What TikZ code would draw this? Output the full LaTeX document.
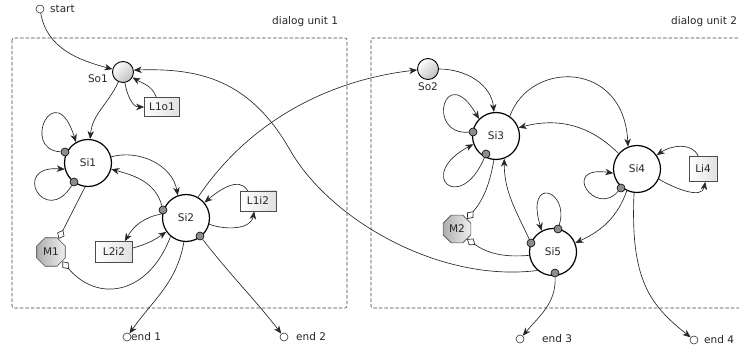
\documentclass[tikz,border=0pt]{standalone}
\usepackage{fontspec}
\setmainfont{DejaVu Sans}
\usetikzlibrary{arrows.meta,shapes.geometric}
\begin{document}
\begin{tikzpicture}[x=1pt,y=1pt,
  font=\fontsize{10.5}{12}\selectfont,
  every node/.style={text=black!85},
  conn/.style={draw=black!85, line width=0.65pt, -{Stealth[length=8pt,width=6.5pt,inset=2.5pt]}},
  mconn/.style={draw=black!85, line width=0.65pt, -{Diamond[open,length=10pt,width=8pt,fill=white]}},
  state/.style={circle, draw=black, line width=1.2pt, fill=white, minimum size=47pt, inner sep=0pt},
  source/.style={circle, draw=black, line width=0.9pt, minimum size=21pt, inner sep=0pt,
    top color=white, bottom color=black!25, shading angle=45},
  port/.style={circle, draw=black, line width=0.6pt, fill=black!45, minimum size=8pt, inner sep=0pt},
  lbox/.style={rectangle, draw=black!70, line width=0.7pt, left color=white, right color=black!12,
    minimum width=35pt, minimum height=20pt, inner sep=1pt},
  mnode/.style={regular polygon, regular polygon sides=8, draw=black!70, line width=0.7pt,
    left color=black!32, right color=black!6, minimum size=31pt, inner sep=0pt},
  term/.style={circle, draw=black!80, line width=0.6pt, fill=white, minimum size=8pt, inner sep=0pt},
  txt/.style={inner sep=0pt},
  unit/.style={draw=black!75, line width=0.6pt, dash pattern=on 3.5pt off 2pt, rounded corners=2pt}
]
\useasboundingbox (0,0) rectangle (739,-347);

% dialog unit frames
\draw[unit] (12,-38) rectangle (347,-308);
\draw[unit] (371,-38) rectangle (760,-308);
\node[txt, anchor=west] (unit1) at (272,-22) {dialog unit 1};
\node[txt, anchor=west] (unit2) at (671,-22) {dialog unit 2};

% start and end points
\node[term] (start) at (40,-9) {};
\node[txt, anchor=west] (startlbl) at (50,-9) {start};
\node[term] (end1) at (127,-337) {};
\node[txt, anchor=west] (end1lbl) at (131,-337) {end 1};
\node[term] (end2) at (284,-337) {};
\node[txt, anchor=west] (end2lbl) at (296,-337) {end 2};
\node[term] (end3) at (520,-339) {};
\node[txt, anchor=west] (end3lbl) at (542,-339) {end 3};
\node[term] (end4) at (694,-340) {};
\node[txt, anchor=west] (end4lbl) at (704,-340) {end 4};

% unit 1
\node[source] (So1) at (123,-72) {};
\node[txt, anchor=east] (So1lbl) at (108,-79) {So1};
\node[lbox, minimum width=35pt, minimum height=19pt] (L1o1) at (162,-107) {L1o1};
\node[state] (Si1) at (88,-163) {Si1};
\node[state] (Si2) at (186,-218) {Si2};
\node[lbox, minimum width=36pt] (L1i2) at (258,-201) {L1i2};
\node[lbox, minimum width=37pt, minimum height=21pt] (L2i2) at (114,-252) {L2i2};
\node[mnode] (M1) at (51,-252) {M1};
\node[port] (dot1a) at (65,-152) {};
\node[port] (dot1b) at (74,-182) {};
\node[port] (dot2a) at (163,-210) {};
\node[port] (dot2b) at (200,-236) {};

% unit 2
\node[source] (So2) at (428,-69) {};
\node[txt] (So2lbl) at (428,-87) {So2};
\node[state] (Si3) at (496,-136) {Si3};
\node[state] (Si4) at (637,-169) {Si4};
\node[lbox, minimum width=28pt, minimum height=25pt] (Li4) at (703,-169) {Li4};
\node[state] (Si5) at (553,-252) {Si5};
\node[mnode, minimum size=30pt] (M2) at (457,-229) {M2};
\node[port] (dot3a) at (473,-132) {};
\node[port] (dot3b) at (486,-154) {};
\node[port] (dot4) at (621,-188) {};
\node[port] (dot5a) at (531,-243) {};
\node[port] (dot5b) at (558,-229) {};
\node[port] (dot5c) at (555,-273) {};

% transitions in unit 1
\draw[conn] (start) to[out=-80, in=165] (So1);
\draw[conn] (So1) to[out=-115, in=85] (Si1);
\draw[conn] (So1) to[out=-80, in=180] (L1o1);
\draw[conn] (L1o1.120) to[out=110, in=-30] (So1);
\draw[conn] (Si1.15) to[out=15, in=100] (Si2.110);
\draw[conn] (dot2a) to[out=105, in=-15] (Si1);
\draw[conn] (dot1a) .. controls (20,-150) and (55,-75) .. (Si1.120);
\draw[conn] (dot1b) .. controls (45,-228) and (10,-165) .. (Si1.195);
\draw[mconn] (Si1.-97) -- (M1.60);
\draw[mconn] (Si2.-130) .. controls (150,-292) and (100,-305) .. (M1.-40);
\draw[conn] (Si2.170) to[out=190, in=60] (L2i2.45);
\draw[conn] (L2i2.12) to[out=15, in=215] (Si2.215);
\draw[conn] (L1i2.135) to[out=120, in=40] (Si2.40);
\draw[conn] (Si2.-15) to[out=-20, in=-100] (L1i2.-110);
\draw[conn] (Si2.-95) to[out=-100, in=55] (end1);
\draw[conn] (dot2b) to[out=-52, in=128] (end2);

% transitions between the units
\draw[conn] (Si2.60) .. controls (250,-120) and (330,-80) .. (So2.185);
\draw[conn] (Si5.230) .. controls (440,-283) and (330,-220) .. (290,-150)
  .. controls (250,-80) and (200,-68) .. (So1.10);

% transitions in unit 2
\draw[conn] (So2) to[out=0, in=95] (Si3);
\draw[conn] (dot3a) .. controls (425,-135) and (445,-60) .. (Si3.135);
\draw[conn] (dot3b) .. controls (460,-215) and (415,-175) .. (Si3.200);
\draw[conn] (Si3.55) .. controls (530,-60) and (624,-60) .. (Si4.112);
\draw[conn] (Si4.140) to[out=135, in=15] (Si3.20);
\draw[conn] (Li4.110) to[out=115, in=35] (Si4.35);
\draw[conn] (Si4.-25) to[out=-30, in=-100] (Li4.-80);
\draw[conn] (dot4) .. controls (595,-218) and (560,-165) .. (Si4.190);
\draw[conn] (Si4.-115) to[out=-110, in=25] (Si5.22);
\draw[conn] (Si4.-97) .. controls (630,-280) and (650,-305) .. (end4);
\draw[conn] (dot5a) to[out=115, in=-90] (Si3.-70);
\draw[conn] (dot5b) .. controls (570,-190) and (525,-175) .. (Si5.118);
\draw[mconn] (Si3.-95) to[out=-100, in=50] (M2.45);
\draw[mconn] (Si5.188) to[out=185, in=-35] (M2.-45);
\draw[conn] (dot5c) to[out=-88, in=50] (end3);
\end{tikzpicture}
\end{document}
